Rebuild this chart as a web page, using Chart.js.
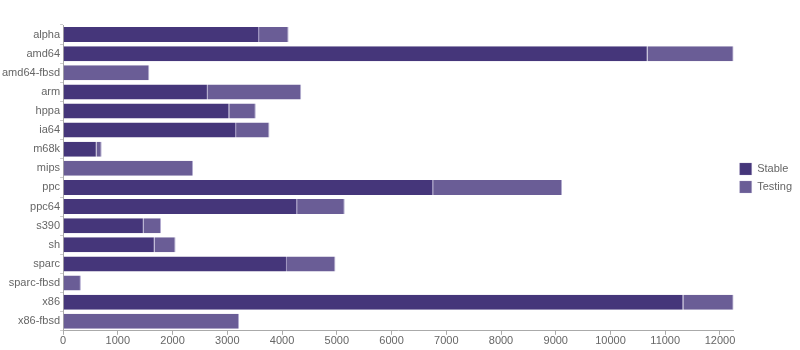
<!DOCTYPE html>
<html>
<head>
<meta charset="utf-8">
<script src="https://cdn.jsdelivr.net/npm/chart.js@4"></script>
<style>
  html, body { margin: 0; padding: 0; background: #fff; }
  #wrap { width: 800px; height: 350px; position: relative; }
</style>
</head>
<body>
<div id="wrap"><canvas id="c" width="800" height="350"></canvas></div>
<script>
const categories = ["alpha","amd64","amd64-fbsd","arm","hppa","ia64","m68k","mips","ppc","ppc64","s390","sh","sparc","sparc-fbsd","x86","x86-fbsd"];
const stableValues = [3580,10680,0,2645,3035,3160,615,0,6760,4275,1475,1675,4090,0,11330,0];
const testingValues = [540,1570,1575,1705,485,610,90,2375,2355,870,315,380,885,325,920,3215];
const seriesNames = ["Stable","Testing"];
const xTickValues = [0,1000,2000,3000,4000,5000,6000,7000,8000,9000,10000,11000,12000];

const totals = categories.map((_, i) => stableValues[i] + testingValues[i]);
const axisMax = Math.max(...totals);

Chart.defaults.font.family = "'Liberation Sans', Arial, sans-serif";
Chart.defaults.font.size = 11;
Chart.defaults.color = "#666";

new Chart(document.getElementById("c"), {
  type: "bar",
  data: {
    labels: categories,
    datasets: [
      { label: seriesNames[0], data: stableValues, backgroundColor: "#45367a",
        borderColor: "#9d93bf", borderWidth: {top:0,bottom:0,left:0,right:1}, borderSkipped: false,
        barPercentage: 0.785, categoryPercentage: 1 },
      { label: seriesNames[1], data: testingValues, backgroundColor: "#6a5d96",
        borderColor: "#b3acd0", borderWidth: {top:0,bottom:0,left:0,right:1}, borderSkipped: false,
        barPercentage: 0.785, categoryPercentage: 1 }
    ]
  },
  options: {
    indexAxis: "y",
    responsive: false,
    animation: false,
    layout: { padding: { top: 25, right: -2, left: 2, bottom: 2 } },
    plugins: {
      legend: {
        position: "right",
        fullSize: false,
        labels: { boxWidth: 12, boxHeight: 12, padding: 6, color: "#666" }
      },
      tooltip: { enabled: false }
    },
    scales: {
      x: {
        stacked: true,
        min: 0,
        max: axisMax,
        afterBuildTicks: (scale) => { scale.ticks = xTickValues.map(v => ({ value: v })); },
        border: { color: "#aaa" },
        grid: { drawOnChartArea: false, tickLength: 4, color: "#aaa" },
        ticks: { maxRotation: 0, autoSkip: false, color: "#666", padding: 0, callback: (v) => String(v) }
      },
      y: {
        stacked: true,
        border: { color: "#aaa" },
        grid: { drawOnChartArea: false, tickLength: 3, color: "#ccc" },
        ticks: { autoSkip: false, color: "#666", padding: 0 }
      }
    }
  }
});
</script>
</body>
</html>
